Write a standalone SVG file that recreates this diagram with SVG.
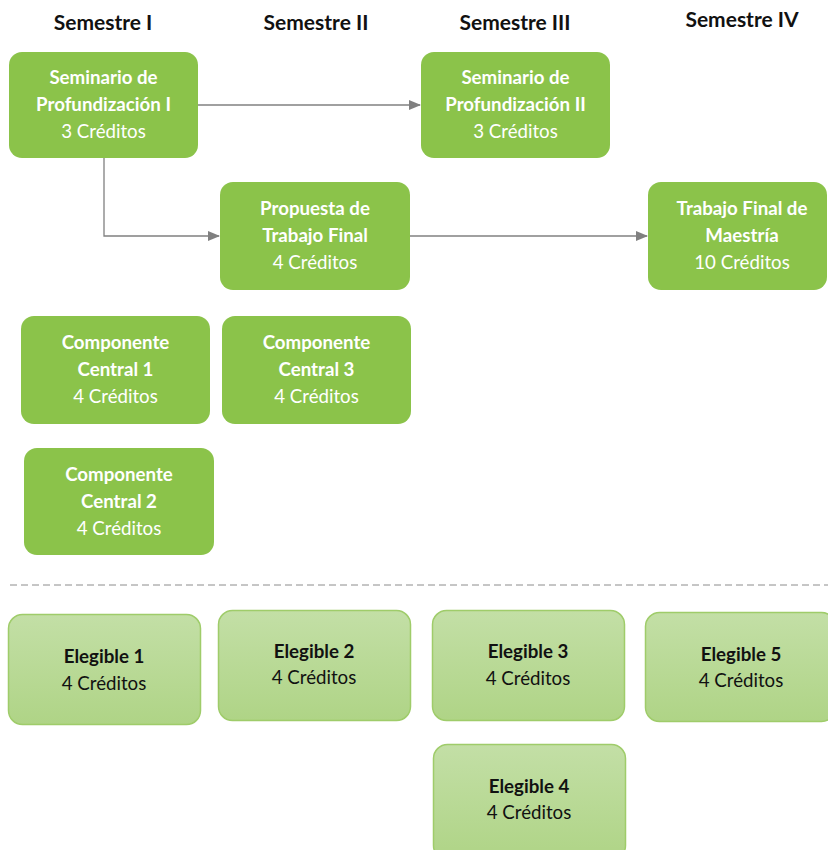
<svg xmlns="http://www.w3.org/2000/svg" width="828" height="850" viewBox="0 0 828 850">
<defs>
<linearGradient id="lg" x1="0" y1="0" x2="0" y2="1">
<stop offset="0" stop-color="#C3DFA6"/>
<stop offset="1" stop-color="#AFD486"/>
</linearGradient>
<marker id="arr" markerWidth="12" markerHeight="10" refX="11" refY="5" orient="auto" markerUnits="userSpaceOnUse">
<path d="M0,0 L12,5 L0,10 z" fill="#808080"/>
</marker>
<style>
.hdr{font-family:Lato,"Open Sans","Liberation Sans",sans-serif;font-weight:bold;font-size:21px;fill:#111;text-anchor:middle}
.n rect{fill:#8BC34A;}
.e rect{fill:url(#lg);stroke:#9FCC6A;stroke-width:1.5}
.t{font-family:Lato,"Open Sans","Liberation Sans",sans-serif;font-size:18.7px;text-anchor:middle}
.n .b{font-weight:bold;fill:#fff}
.n .r{fill:#fff}
.e .b{font-weight:bold;fill:#111}
.e .r{fill:#111}
.c{stroke:#808080;stroke-width:1.3;fill:none}
</style>
</defs>
<rect width="828" height="850" fill="#fff"/>
<g id="headers">
<text class="hdr" x="103" y="30">Semestre I</text>
<text class="hdr" x="316" y="30">Semestre II</text>
<text class="hdr" x="515" y="30">Semestre III</text>
<text class="hdr" x="742" y="27">Semestre IV</text>
</g>
<g id="connectors">
<line class="c" x1="198" y1="105" x2="420" y2="105" marker-end="url(#arr)"/>
<polyline class="c" points="104,158 104,236 219,236" marker-end="url(#arr)"/>
<line class="c" x1="410" y1="236" x2="647" y2="236" marker-end="url(#arr)"/>
<line x1="10" y1="585" x2="828" y2="585" stroke="#8C8C8C" stroke-width="1" stroke-dasharray="7,4"/>
</g>
<g id="sem1" class="n">
<rect x="9" y="52" width="189" height="106" rx="13"/>
<text class="t b" x="103.5" y="84">Seminario de</text>
<text class="t b" x="103.5" y="111">Profundización I</text>
<text class="t r" x="103.5" y="138">3 Créditos</text>
</g>
<g id="sem2" class="n">
<rect x="421" y="52" width="189" height="106" rx="13"/>
<text class="t b" x="515.5" y="84">Seminario de</text>
<text class="t b" x="515.5" y="111">Profundización II</text>
<text class="t r" x="515.5" y="138">3 Créditos</text>
</g>
<g id="propuesta" class="n">
<rect x="220" y="182" width="190" height="108" rx="13"/>
<text class="t b" x="315" y="215">Propuesta de</text>
<text class="t b" x="315" y="242">Trabajo Final</text>
<text class="t r" x="315" y="269">4 Créditos</text>
</g>
<g id="trabajo" class="n">
<rect x="648" y="182" width="179" height="108" rx="13"/>
<text class="t b" x="742" y="215">Trabajo Final de</text>
<text class="t b" x="742" y="242">Maestría</text>
<text class="t r" x="742" y="269">10 Créditos</text>
</g>
<g id="cc1" class="n">
<rect x="21" y="316" width="189" height="108" rx="13"/>
<text class="t b" x="115.5" y="349">Componente</text>
<text class="t b" x="115.5" y="376">Central 1</text>
<text class="t r" x="115.5" y="403">4 Créditos</text>
</g>
<g id="cc3" class="n">
<rect x="222" y="316" width="189" height="108" rx="13"/>
<text class="t b" x="316.5" y="349">Componente</text>
<text class="t b" x="316.5" y="376">Central 3</text>
<text class="t r" x="316.5" y="403">4 Créditos</text>
</g>
<g id="cc2" class="n">
<rect x="24" y="448" width="190" height="107" rx="13"/>
<text class="t b" x="119" y="481">Componente</text>
<text class="t b" x="119" y="508">Central 2</text>
<text class="t r" x="119" y="535">4 Créditos</text>
</g>
<g id="el1" class="e">
<rect x="8.5" y="614.5" width="192" height="110" rx="14"/>
<text class="t b" x="104" y="663">Elegible 1</text>
<text class="t r" x="104" y="690">4 Créditos</text>
</g>
<g id="el2" class="e">
<rect x="218.5" y="610.5" width="192" height="110" rx="14"/>
<text class="t b" x="314" y="658">Elegible 2</text>
<text class="t r" x="314" y="684">4 Créditos</text>
</g>
<g id="el3" class="e">
<rect x="432.5" y="610.5" width="192" height="110" rx="14"/>
<text class="t b" x="528" y="658">Elegible 3</text>
<text class="t r" x="528" y="685">4 Créditos</text>
</g>
<g id="el5" class="e">
<rect x="645.5" y="612.5" width="190" height="109" rx="14"/>
<text class="t b" x="741" y="661">Elegible 5</text>
<text class="t r" x="741" y="687">4 Créditos</text>
</g>
<g id="el4" class="e">
<rect x="433.5" y="744.5" width="192" height="115" rx="14"/>
<text class="t b" x="529" y="793">Elegible 4</text>
<text class="t r" x="529" y="819">4 Créditos</text>
</g>
</svg>
